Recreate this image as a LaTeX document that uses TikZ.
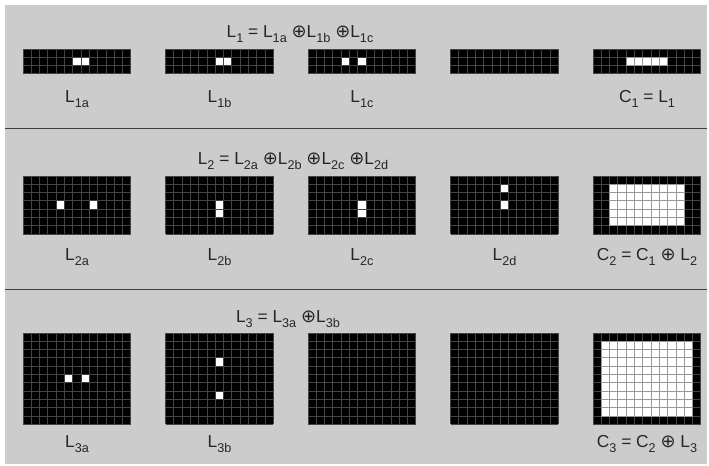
\documentclass[tikz,border=0pt]{standalone}
\usepackage{fontspec}
\setmainfont{Liberation Sans}
\newfontfamily\symfont{DejaVu Sans}
\definecolor{PanelGray}{RGB}{204,204,204}
\definecolor{GridLine}{RGB}{68,68,68}
\definecolor{RuleGray}{RGB}{64,64,64}
\newcommand{\sbs}[1]{\raisebox{-4pt}{\fontsize{9.5}{11}\selectfont #1}}
\newcommand{\xo}{{\symfont\fontsize{13.5}{15}\selectfont ⊕}}
\def\cw{8.3}
% black pixel board: left, top, columns, rows
\newcommand{\pixgrid}[4]{%
  \fill[black] (#1,#2) rectangle ++(#3*\cw,#4*\cw);
  \foreach \i in {0,...,#3} \draw[gridline] (#1+\i*\cw,#2) -- ++(0,#4*\cw);
  \foreach \j in {0,...,#4} \draw[gridline] (#1,#2+\j*\cw) -- ++(#3*\cw,0);
}
% single white pixels: left, top, list of column/row
\newcommand{\pixon}[3]{%
  \foreach \c/\r in {#3}
    \filldraw[fill=white,gridline] (#1+\c*\cw,#2+\r*\cw) rectangle ++(\cw,\cw);
}
% white block: left, top, first col, first row, last col, last row
\newcommand{\pixblock}[6]{%
  \foreach \c in {#3,...,#5}
    \foreach \r in {#4,...,#6}
      \filldraw[fill=white,draw=GridLine!55,line width=0.7pt] (#1+\c*\cw,#2+\r*\cw) rectangle ++(\cw,\cw);
}

\begin{document}
\begin{tikzpicture}[x=0.75pt,y=-0.75pt,
    lbl/.style={anchor=base,font=\fontsize{13}{15}\selectfont,text=black!85},
    gridline/.style={draw=GridLine,line width=0.75pt}]
    \useasboundingbox (0,0) rectangle (709,465);
    \fill[white] (0,0) rectangle (709,465);
    \fill[PanelGray] (5,5) rectangle (707,464);
    \draw[RuleGray,line width=1.3pt] (5,128.5) -- (707,128.5);
    \draw[RuleGray,line width=1.3pt] (5,289.5) -- (707,289.5);

    % row 1
    \node[lbl] (t1) at (300,37) {L\sbs{1} = L\sbs{1a} \xo L\sbs{1b} \xo L\sbs{1c}};
    \pixgrid{23}{49}{13}{3}
    \pixon{23}{49}{6/1,7/1}
    \pixgrid{165.5}{49}{13}{3}
    \pixon{165.5}{49}{6/1,7/1}
    \pixgrid{308}{49}{13}{3}
    \pixon{308}{49}{4/1,6/1}
    \pixgrid{450.5}{49}{13}{3}
    \pixgrid{593}{49}{13}{3}
    \pixblock{593}{49}{4}{1}{8}{1}
    \node[lbl] (l1a) at (77,102) {L\sbs{1a}};
    \node[lbl] (l1b) at (219.5,102) {L\sbs{1b}};
    \node[lbl] (l1c) at (362,102) {L\sbs{1c}};
    \node[lbl] (c1) at (647,102) {C\sbs{1} = L\sbs{1}};

    % row 2
    \node[lbl] (t2) at (293,164) {L\sbs{2} = L\sbs{2a} \xo L\sbs{2b} \xo L\sbs{2c} \xo L\sbs{2d}};
    \pixgrid{23}{176}{13}{7}
    \pixon{23}{176}{4/3,8/3}
    \pixgrid{165.5}{176}{13}{7}
    \pixon{165.5}{176}{6/3,6/4}
    \pixgrid{308}{176}{13}{7}
    \pixon{308}{176}{6/3,6/4}
    \pixgrid{450.5}{176}{13}{7}
    \pixon{450.5}{176}{6/1,6/3}
    \pixgrid{593}{176}{13}{7}
    \pixblock{593}{176}{2}{1}{10}{5}
    \node[lbl] (l2a) at (77,260) {L\sbs{2a}};
    \node[lbl] (l2b) at (219.5,260) {L\sbs{2b}};
    \node[lbl] (l2c) at (362,260) {L\sbs{2c}};
    \node[lbl] (l2d) at (504.5,260) {L\sbs{2d}};
    \node[lbl] (c2) at (647,260) {C\sbs{2} = C\sbs{1} \xo\ L\sbs{2}};

    % row 3
    \node[lbl] (t3) at (288,322) {L\sbs{3} = L\sbs{3a} \xo L\sbs{3b}};
    \pixgrid{23}{333}{13}{11}
    \pixon{23}{333}{5/5,7/5}
    \pixgrid{165.5}{333}{13}{11}
    \pixon{165.5}{333}{6/3,6/7}
    \pixgrid{308}{333}{13}{11}
    \pixgrid{450.5}{333}{13}{11}
    \pixgrid{593}{333}{13}{11}
    \pixblock{593}{333}{1}{1}{11}{9}
    \node[lbl] (l3a) at (77,447) {L\sbs{3a}};
    \node[lbl] (l3b) at (219.5,447) {L\sbs{3b}};
    \node[lbl] (c3) at (647,447) {C\sbs{3} = C\sbs{2} \xo\ L\sbs{3}};
\end{tikzpicture}
\end{document}
